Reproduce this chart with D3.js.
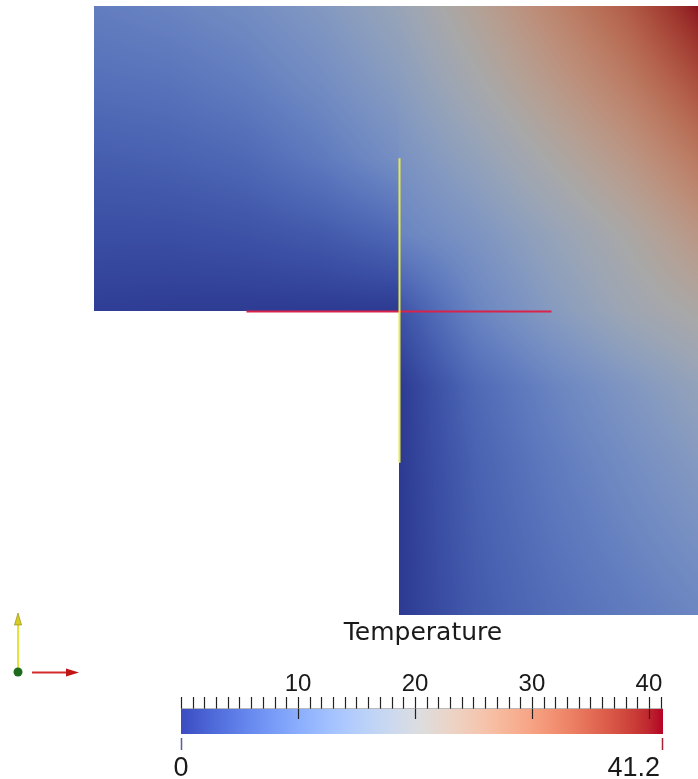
<!DOCTYPE html>
<html>
<head>
<meta charset="utf-8">
<script src="https://cdn.jsdelivr.net/npm/d3@7"></script>
<style>
  html, body { margin: 0; padding: 0; background: #fff; }
  #wrap { position: relative; width: 698px; height: 779px; overflow: hidden; }
  canvas, svg { position: absolute; left: 0; top: 0; }
</style>
</head>
<body>
<div id="wrap">
  <canvas id="field" width="698" height="779"></canvas>
  <svg id="chart" width="698" height="779"></svg>
</div>
<script>
// ---------------- data ----------------
const fieldName = "Temperature";
const rangeMin = 0;
const rangeMax = 41.2;
const majorTicks = [10, 20, 30, 40];
const minorTicks = d3.range(0, 42, 1);
const rangeLabels = ["0", "41.2"];

// Top-left block: x nodes and y nodes (domain units)
const leftX = [-1, -0.75, -0.5, -0.25, 0];
const leftY = [1, 0.75, 0.5, 0.25, 0];
const leftT = [
  [9, 10, 11.5, 14, 17.5],
  [7, 7.5, 9, 11.5, 15],
  [4.5, 5, 6, 8.5, 12],
  [2.5, 2.5, 3, 4, 6],
  [0.5, 0.3, 0.2, 0.1, 0]
];
// Right column block
const rightX = [0, 0.25, 0.5, 0.75, 1];
const rightY = [1, 0.75, 0.5, 0.25, 0, -0.25, -0.5, -0.75, -1];
const rightT = [
  [17.5, 23, 28.5, 34, 41.2],
  [15, 20, 25, 30, 36],
  [12.5, 16.5, 21, 25.5, 31],
  [10, 13, 17, 21, 26],
  [3, 10, 14.5, 18.5, 21.5],
  [0, 6, 10, 13.5, 17],
  [0, 5, 8.5, 11.5, 14.5],
  [0, 4.5, 7.5, 10, 12.5],
  [0, 4, 6.5, 8.5, 10.5]
];
// probe lines (domain units)
const hLine = { x0: -0.5, x1: 0.5, y: 0 };
const vLine = { x: 0, y0: 0.5, y1: -0.5 };

// Cool to Warm colormap (fraction -> rgb)
const cmapPos = [0, 0.03125, 0.0625, 0.09375, 0.125, 0.15625, 0.1875, 0.21875, 0.25, 0.28125, 0.3125, 0.34375, 0.375, 0.40625, 0.4375, 0.46875, 0.5, 0.53125, 0.5625, 0.59375, 0.625, 0.65625, 0.6875, 0.71875, 0.75, 0.78125, 0.8125, 0.84375, 0.875, 0.90625, 0.9375, 0.96875, 1];
const cmapRGB = [[59,76,192],[68,90,204],[77,104,215],[87,117,225],[98,130,234],[108,142,241],[119,154,247],[130,165,251],[141,176,254],[152,185,255],[163,194,255],[174,201,253],[184,208,249],[194,213,244],[204,217,238],[213,219,230],[221,221,221],[229,216,209],[236,211,197],[241,204,185],[245,196,173],[247,187,160],[247,177,148],[247,166,135],[244,154,123],[241,141,111],[236,127,99],[229,112,88],[222,96,77],[213,80,66],[203,62,56],[192,40,47],[180,4,38]];

// ---------------- scales ----------------
const W = 698, H = 779;
const xs = d3.scaleLinear().domain([-1, 1]).range([94, 704]);
const ys = d3.scaleLinear().domain([1, -1]).range([6, 615]);
const color = d3.scaleLinear()
  .domain(cmapPos.map(p => rangeMin + p * (rangeMax - rangeMin)))
  .range(cmapRGB.map(c => d3.rgb(c[0], c[1], c[2])))
  .interpolate(d3.interpolateRgb)
  .clamp(true);
const shade = 0.76;

function bilinear(xN, yN, T, x, y) {
  const nx = xN.length, ny = yN.length;
  const fx = d3.scaleLinear().domain(xN).range(d3.range(nx)).clamp(true)(x);
  const fy = d3.scaleLinear().domain(yN).range(d3.range(ny)).clamp(true)(y);
  const i = Math.min(Math.floor(fx), nx - 2), j = Math.min(Math.floor(fy), ny - 2);
  const tx = fx - i, ty = fy - j;
  const a = T[j][i], b = T[j][i + 1], c = T[j + 1][i], d = T[j + 1][i + 1];
  return (a * (1 - tx) + b * tx) * (1 - ty) + (c * (1 - tx) + d * tx) * ty;
}

// ---------------- field (canvas) ----------------
const ctx = document.getElementById("field").getContext("2d");
const img = ctx.createImageData(W, H);
const cache = new Map();
for (let py = 0; py < H; py++) {
  for (let px = 0; px < W; px++) {
    const x = xs.invert(px + 0.5), y = ys.invert(py + 0.5);
    let v = null;
    if (y >= 0 && y <= 1 && x >= -1 && x < 0) v = bilinear(leftX, leftY, leftT, x, y);
    else if (x >= 0 && x <= 1 && y >= -1 && y <= 1) v = bilinear(rightX, rightY, rightT, x, y);
    if (v === null) continue;
    const key = Math.round(v * 50);
    let c = cache.get(key);
    if (!c) { c = d3.rgb(color(key / 50)); cache.set(key, c); }
    const k = (py * W + px) * 4;
    img.data[k] = c.r * shade;
    img.data[k + 1] = c.g * shade;
    img.data[k + 2] = c.b * shade;
    img.data[k + 3] = 255;
  }
}
ctx.putImageData(img, 0, 0);

// ---------------- overlay (svg) ----------------
const svg = d3.select("#chart");

svg.append("line")
  .attr("x1", xs(hLine.x0)).attr("x2", xs(hLine.x1))
  .attr("y1", ys(hLine.y) + 1).attr("y2", ys(hLine.y) + 1)
  .attr("stroke", "#d8234a").attr("stroke-width", 2);
svg.append("line")
  .attr("x1", xs(vLine.x) + 0.5).attr("x2", xs(vLine.x) + 0.5)
  .attr("y1", ys(vLine.y0)).attr("y2", ys(vLine.y1))
  .attr("stroke", "#e8ea48").attr("stroke-width", 2);

// orientation triad
const tri = svg.append("g");
tri.append("line").attr("x1", 18).attr("y1", 672).attr("x2", 18).attr("y2", 622)
  .attr("stroke", "#e6e23a").attr("stroke-width", 2);
tri.append("path").attr("d", "M18,613 L14.5,625 L21.5,625 Z").attr("fill", "#d9cc20").attr("stroke", "#8a8010").attr("stroke-width", 0.6);
tri.append("line").attr("x1", 32).attr("y1", 672.5).attr("x2", 68).attr("y2", 672.5)
  .attr("stroke", "#d22a2a").attr("stroke-width", 2);
tri.append("path").attr("d", "M79,672.5 L66,668.5 L66,676.5 Z").attr("fill", "#c01515");
tri.append("circle").attr("cx", 18).attr("cy", 672).attr("r", 4.5).attr("fill", "#1e6b1e");

// colour legend
const barX0 = 181, barX1 = 663, barY = 709, barH = 25;
const cb = d3.scaleLinear().domain([rangeMin, rangeMax]).range([barX0, barX1]);
const defs = svg.append("defs");
const grad = defs.append("linearGradient").attr("id", "cw").attr("x1", "0%").attr("x2", "100%");
cmapPos.forEach((p, i) => {
  grad.append("stop").attr("offset", (p * 100) + "%")
    .attr("stop-color", d3.rgb(cmapRGB[i][0], cmapRGB[i][1], cmapRGB[i][2]).formatHex());
});
svg.append("rect").attr("x", barX0).attr("y", barY).attr("width", barX1 - barX0).attr("height", barH)
  .attr("fill", "url(#cw)");

const tickG = svg.append("g").attr("stroke", "#222").attr("stroke-width", 1.2);
tickG.selectAll("line.minor").data(minorTicks).join("line").attr("class", "minor")
  .attr("x1", d => Math.round(cb(d)) + 0.5).attr("x2", d => Math.round(cb(d)) + 0.5)
  .attr("y1", 697).attr("y2", d => majorTicks.includes(d) ? 719 : 709);
tickG.append("line").attr("x1", barX0).attr("x2", barX1).attr("y1", 708.5).attr("y2", 708.5)
  .attr("stroke", "#888").attr("stroke-width", 0.6);

svg.selectAll("text.major").data(majorTicks).join("text").attr("class", "major")
  .attr("x", d => cb(d)).attr("y", 691)
  .attr("text-anchor", "middle")
  .attr("font-family", "'Liberation Sans', Arial, sans-serif").attr("font-size", 24)
  .attr("fill", "#1a1a1a").text(d => d);

svg.append("text").attr("x", 423).attr("y", 640).attr("text-anchor", "middle")
  .attr("font-family", "'DejaVu Sans', sans-serif").attr("font-size", 25)
  .attr("fill", "#1a1a1a").text(fieldName);

// range end marks and labels
svg.append("line").attr("x1", barX0 + 0.5).attr("x2", barX0 + 0.5).attr("y1", 738).attr("y2", 750)
  .attr("stroke", "#5a5aa8").attr("stroke-width", 1.5);
svg.append("line").attr("x1", barX1 - 0.5).attr("x2", barX1 - 0.5).attr("y1", 738).attr("y2", 750)
  .attr("stroke", "#a82030").attr("stroke-width", 1.5);
svg.append("text").attr("x", cb(rangeMin)).attr("y", 776).attr("text-anchor", "middle")
  .attr("font-family", "'Liberation Sans', Arial, sans-serif").attr("font-size", 27)
  .attr("fill", "#1a1a1a").text(rangeLabels[0]);
svg.append("text").attr("x", cb(rangeMax) - 3).attr("y", 776).attr("text-anchor", "end")
  .attr("font-family", "'Liberation Sans', Arial, sans-serif").attr("font-size", 27)
  .attr("fill", "#1a1a1a").text(rangeLabels[1]);
</script>
</body>
</html>
